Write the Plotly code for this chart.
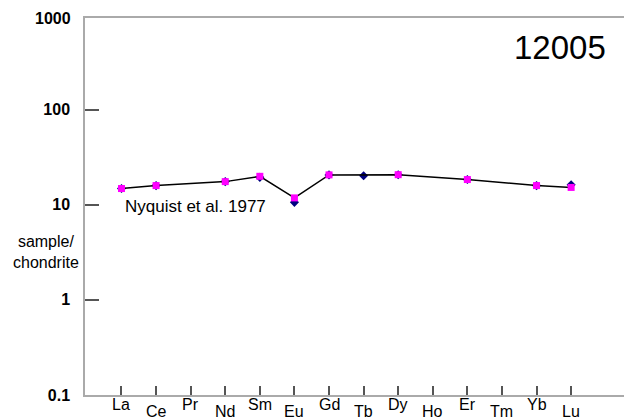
import plotly.graph_objects as go

elements = ["La", "Ce", "Pr", "Nd", "Sm", "Eu", "Gd", "Tb", "Dy", "Ho", "Er", "Tm", "Yb", "Lu"]
# Nyquist et al. 1977 (pink squares, connected by line)
nyquist = [14.8, 15.9, None, 17.5, 19.9, 11.8, 20.6, None, 20.7, None, 18.4, None, 15.9, 15.2]
# second data set (dark blue diamonds)
other = [14.8, 15.9, None, 17.5, 19.4, 10.6, 20.6, 20.2, 20.7, None, 18.4, None, 15.9, 16.2]
y_ticks = [0.1, 1, 10, 100]
y_tick_text = ["0.1", "1", "10", "100"]
sample_name = "12005"
ref_label = "Nyquist et al. 1977"

xs = list(range(len(elements)))
FONT = "Liberation Sans, Arial, sans-serif"

fig = go.Figure()
fig.add_trace(go.Scatter(
    x=xs, y=other, mode="markers",
    marker=dict(symbol="diamond", size=7, color="#000080"),
    showlegend=False, hoverinfo="skip"))
fig.add_trace(go.Scatter(
    x=xs, y=nyquist, mode="lines+markers", connectgaps=True,
    line=dict(color="black", width=1.5),
    marker=dict(symbol="square", size=7, color="#ff00ff"),
    showlegend=False))

# staggered element labels
for i, el in enumerate(elements):
    fig.add_annotation(x=i, xref="x", y=0, yref="paper", text=el,
                       showarrow=False, yanchor="middle",
                       yshift=-9 if i % 2 == 0 else -16,
                       font=dict(family=FONT, size=16, color="black"))

fig.add_annotation(x=0, xref="paper", y=1, yref="paper", text="<b>1000</b>",
                   showarrow=False, xanchor="right", yanchor="middle", xshift=-12,
                   font=dict(family=FONT, size=16, color="black"))
fig.add_annotation(x=0, xref="paper", y=0.378, yref="paper", text="sample/<br>chondrite",
                   showarrow=False, xanchor="center", yanchor="middle", xshift=-39,
                   font=dict(family=FONT, size=16, color="black"))
fig.add_annotation(x=0.03, xref="x", y=0.979, yref="y", text=ref_label,
                   showarrow=False, xanchor="left", yanchor="middle",
                   font=dict(family=FONT, size=17, color="black"))
fig.add_annotation(x=12.68, xref="x", y=2.653, yref="y", text=sample_name,
                   showarrow=False, xanchor="center", yanchor="middle",
                   font=dict(family=FONT, size=33, color="black"))

fig.update_layout(
    width=624, height=412,
    margin=dict(l=77, r=0, t=10, b=25),
    paper_bgcolor="white", plot_bgcolor="white",
    xaxis=dict(range=[-1.055, 14.76], tickvals=xs, ticktext=[""] * len(xs),
               showgrid=False, zeroline=False, showline=True, mirror=True,
               linecolor="#aaaaaa", linewidth=1.5,
               ticks="inside", ticklen=9, tickcolor="#555555", tickwidth=1.5),
    yaxis=dict(type="log", range=[-1, 2.963], tickvals=y_ticks,
               ticktext=["<b>%s</b>" % t for t in y_tick_text],
               showgrid=False, zeroline=False, showline=True,
               linecolor="#aaaaaa", linewidth=1.5,
               ticks="inside", ticklen=14, tickcolor="#555555", tickwidth=2,
               ticklabelstandoff=10,
               tickfont=dict(family=FONT, size=16, color="black")),
)

fig.write_html("out.html")
